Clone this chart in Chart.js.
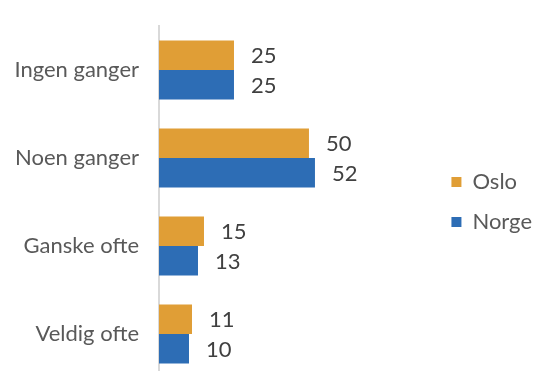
<!DOCTYPE html>
<html>
<head>
<meta charset="utf-8">
<script src="https://cdn.jsdelivr.net/npm/chart.js@4"></script>
<style>
  html, body { margin: 0; padding: 0; background: #fff; overflow: hidden; }
  canvas { position: absolute; left: 0; top: 0; }
</style>
</head>
<body>
<canvas id="chart" width="533" height="380"></canvas>
<script>
// kategorier og verdier lest fra figuren
const kategorier = ['Ingen ganger', 'Noen ganger', 'Ganske ofte', 'Veldig ofte'];
const oslo = [25, 50, 15, 11];
const norge = [25, 52, 13, 10];

// skriver verdien til høyre for hver stolpe
const verdiEtiketter = {
  id: 'verdiEtiketter',
  afterDatasetsDraw(chart) {
    const ctx = chart.ctx;
    ctx.save();
    ctx.font = '22px Lato';
    ctx.fillStyle = '#404040';
    ctx.textBaseline = 'middle';
    chart.data.datasets.forEach((ds, i) => {
      chart.getDatasetMeta(i).data.forEach((bar, j) => {
        ctx.fillText(ds.data[j], bar.x + 17, bar.y + 1);
      });
    });
    ctx.restore();
  }
};

const ctx = document.getElementById('chart').getContext('2d');
new Chart(ctx, {
  type: 'bar',
  data: {
    labels: kategorier,
    datasets: [
      { label: 'Oslo', data: oslo, backgroundColor: '#E09E36', borderWidth: 0 },
      { label: 'Norge', data: norge, backgroundColor: '#2D6DB5', borderWidth: 0 }
    ]
  },
  options: {
    indexAxis: 'y',
    responsive: false,
    animation: false,
    categoryPercentage: 0.67,
    barPercentage: 1,
    layout: { padding: { top: 26, bottom: 2, right: -9, left: 0 } },
    plugins: {
      title: { display: false },
      tooltip: { enabled: false },
      legend: {
        position: 'right',
        labels: {
          boxWidth: 10,
          boxHeight: 10,
          padding: 18,
          color: '#595959',
          font: { family: 'Lato', size: 22 }
        }
      }
    },
    scales: {
      x: {
        display: false,
        min: 0,
        max: 91.5
      },
      y: {
        afterFit(scale) {
          scale.width = 159;
          scale.paddingTop = 0;
          scale.paddingBottom = 0;
        },
        grid: { display: false, drawTicks: false },
        border: { display: true, color: '#d9d9d9', width: 2 },
        ticks: {
          padding: 20,
          color: '#595959',
          font: { family: 'Lato', size: 22 }
        }
      }
    }
  },
  plugins: [verdiEtiketter]
});
</script>
</body>
</html>
